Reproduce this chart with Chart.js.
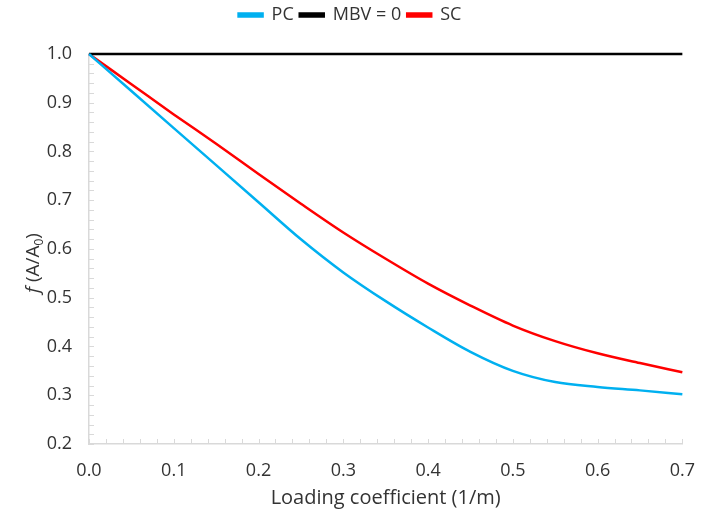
<!DOCTYPE html>
<html lang="en">
<head>
<meta charset="UTF-8">
<title>f(A/A0) vs loading coefficient</title>
<script src="https://cdn.jsdelivr.net/npm/chart.js"></script>
</head>
<body style="margin:0; padding:0; background:#fff;">
<div style="width:711px; height:513px; position:relative;">
  <canvas id="chart"></canvas>
</div>
<script>
// values
const loading = [0, 0.05, 0.1, 0.15, 0.2, 0.25, 0.3, 0.35, 0.4, 0.45, 0.5, 0.55, 0.6, 0.65, 0.7];
const pc = [1.0, 0.924, 0.848, 0.772, 0.696, 0.620, 0.552, 0.493, 0.439, 0.389, 0.350, 0.327, 0.317, 0.310, 0.302];
const sc = [1.0, 0.938, 0.876, 0.816, 0.754, 0.693, 0.634, 0.580, 0.529, 0.484, 0.443, 0.411, 0.386, 0.366, 0.347];
const mbvLoading = [0, 0.7];
const mbv = [1.0, 1.0];
const xTicks = [0, 0.1, 0.2, 0.3, 0.4, 0.5, 0.6, 0.7];
const yTicks = [0.2, 0.3, 0.4, 0.5, 0.6, 0.7, 0.8, 0.9, 1.0];

const FONT = "'Open Sans', sans-serif";
const TXT = '#333333';
const AXIS = '#d9d9d9';

function pts(xs, ys) {
  return xs.map((x, i) => ({x: x, y: ys[i]}));
}

// little inside ticks every 0.02, like the excel axis
const minorTicks = {
  id: 'minorTicks',
  beforeDatasetsDraw(chart) {
    const {ctx, chartArea, scales} = chart;
    ctx.save();
    ctx.strokeStyle = AXIS;
    ctx.lineWidth = 1;
    ctx.beginPath();
    for (let v = 0; v <= 0.7001; v += 0.02) {
      const x = Math.round(scales.x.getPixelForValue(v)) + 0.5;
      ctx.moveTo(x, chartArea.bottom);
      ctx.lineTo(x, chartArea.bottom - 5);
    }
    for (let v = 0.2; v <= 1.0001; v += 0.02) {
      const y = Math.round(scales.y.getPixelForValue(v)) + 0.5;
      ctx.moveTo(chartArea.left, y);
      ctx.lineTo(chartArea.left + 5, y);
    }
    ctx.stroke();
    ctx.restore();
  }
};

// y title with italic f and subscript 0
const yTitle = {
  id: 'yTitle',
  afterDraw(chart) {
    const ctx = chart.ctx;
    const cy = (chart.chartArea.top + chart.chartArea.bottom) / 2 + 14;
    ctx.save();
    ctx.translate(34, cy);
    ctx.rotate(-Math.PI / 2);
    ctx.fillStyle = TXT;
    ctx.textBaseline = 'middle';
    const parts = [
      {t: 'f', f: 'italic 19px ' + FONT, dy: 0},
      {t: ' (A/A', f: '19px ' + FONT, dy: 0},
      {t: '0', f: '12px ' + FONT, dy: 6},
      {t: ')', f: '19px ' + FONT, dy: 0}
    ];
    let w = 0;
    parts.forEach(p => { ctx.font = p.f; w += ctx.measureText(p.t).width; });
    let x = -w / 2;
    parts.forEach(p => {
      ctx.font = p.f;
      ctx.fillText(p.t, x, p.dy);
      x += ctx.measureText(p.t).width;
    });
    ctx.restore();
  }
};

const legendHeight = {
  id: 'legendHeight',
  beforeInit(chart) {
    const fit = chart.legend.fit;
    chart.legend.fit = function () {
      fit.call(this);
      this.height = 54;
    };
  }
};

new Chart(document.getElementById('chart'), {
  type: 'line',
  data: {
    datasets: [
      {label: 'PC', data: pts(loading, pc), borderColor: '#00b0f0', backgroundColor: '#00b0f0'},
      {label: 'MBV = 0', data: pts(mbvLoading, mbv), borderColor: '#000000', backgroundColor: '#000000'},
      {label: 'SC', data: pts(loading, sc), borderColor: '#ff0000', backgroundColor: '#ff0000'}
    ]
  },
  options: {
    responsive: true,
    maintainAspectRatio: false,
    animation: false,
    layout: {padding: {left: 0, right: 11, top: 0, bottom: 0}},
    elements: {
      line: {borderWidth: 2.5, cubicInterpolationMode: 'monotone', fill: false},
      point: {radius: 0}
    },
    datasets: {line: {clip: false}},
    plugins: {
      tooltip: {enabled: false},
      legend: {
        position: 'top',
        labels: {
          font: {family: FONT, size: 18},
          color: TXT,
          boxWidth: 24,
          boxHeight: 3,
          padding: 6
        }
      }
    },
    scales: {
      x: {
        type: 'linear',
        min: 0,
        max: 0.7,
        afterBuildTicks(s) { s.ticks = xTicks.map(v => ({value: v})); },
        afterFit(s) { s.height = 69; },
        border: {color: AXIS, width: 1.5},
        grid: {drawOnChartArea: false, drawTicks: false},
        ticks: {
          font: {family: FONT, size: 18},
          color: TXT,
          padding: 16,
          callback: v => v.toFixed(1)
        },
        title: {
          display: true,
          text: 'Loading coefficient (1/m)',
          font: {family: FONT, size: 20},
          color: TXT,
          padding: {top: 0, bottom: 3}
        }
      },
      y: {
        type: 'linear',
        min: 0.2,
        max: 1.0,
        afterBuildTicks(s) { s.ticks = yTicks.map(v => ({value: v})); },
        afterFit(s) { s.width = 89; },
        border: {color: AXIS, width: 1.5},
        grid: {drawOnChartArea: false, drawTicks: false},
        ticks: {
          font: {family: FONT, size: 18},
          color: TXT,
          padding: 17,
          callback: v => v.toFixed(1)
        }
      }
    }
  },
  plugins: [minorTicks, yTitle, legendHeight]
});
</script>
</body>
</html>
